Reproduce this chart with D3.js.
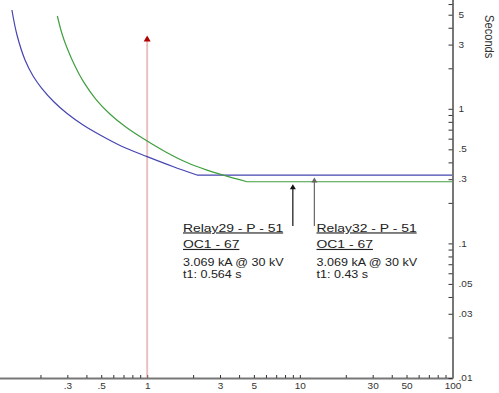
<!DOCTYPE html>
<html><head><meta charset="utf-8">
<script src="https://cdn.jsdelivr.net/npm/d3@7/dist/d3.min.js"></script>
<style>html,body{margin:0;padding:0;background:#fff;overflow:hidden}</style>
</head><body>
<svg id="c" width="499" height="393"></svg>
<script>
// ---- data (current in kA on x, time in seconds on y) ----
const blueCurrent = [0.130, 0.1404, 0.1585, 0.1789, 0.2040, 0.2456, 0.2974, 0.3805, 0.4917, 0.6857, 1.0, 1.487, 2.118, 100];
const blueTime    = [5.42, 3.534, 2.305, 1.753, 1.420, 1.123, 0.926, 0.758, 0.639, 0.525, 0.441, 0.371, 0.322, 0.322];
const greenCurrent = [0.2581, 0.2758, 0.2974, 0.3372, 0.3823, 0.4629, 0.5721, 0.7284, 1.0, 1.332, 1.821, 2.437, 3.198, 4.506, 100];
const greenTime    = [4.892, 3.658, 2.866, 2.069, 1.590, 1.172, 0.912, 0.729, 0.576, 0.476, 0.399, 0.352, 0.320, 0.287, 0.287];
const faultCurrent = 1;      // red marker
const faultTop = 3.5;
const arrowCurrent = [9.0, 12.45];
const arrowTargetTime = [0.287, 0.322];
const relayNames = ["Relay29 - P - 51", "Relay32 - P - 51"];
const relaySub = ["OC1 - 67", "OC1 - 67"];
const relayInfo = ["3.069 kA @ 30 kV", "3.069 kA @ 30 kV"];
const relayT1 = ["t1: 0.564 s", "t1: 0.43 s"];
const xTickVals = [0.2,0.3,0.4,0.5,0.6,0.7,0.8,0.9,1,2,3,4,5,6,7,8,9,10,20,30,40,50,60,70,80,90,100];
const xLabelVals = [0.3,0.5,1,3,5,10,30,50,100];
const xLabelText = [".3",".5","1","3","5","10","30","50","100"];
const yTickVals = [0.01,0.02,0.03,0.04,0.05,0.06,0.07,0.08,0.09,0.1,0.2,0.3,0.4,0.5,0.6,0.7,0.8,0.9,1,2,3,4,5,6];
const yLabelVals = [0.01,0.03,0.05,0.1,0.3,0.5,1,3,5];
const yLabelText = [".01",".03",".05",".1",".3",".5","1","3","5"];
const yTitle = "Seconds";

// ---- layout ----
const SX = 1.22;
const FONT = "'Liberation Sans', Arial, sans-serif";
const svg = d3.select("#c");
const axisX = 452.5, axisY = 378;
const x = d3.scaleLog().domain([0.1, 100]).range([-5.5, axisX]);
const y = d3.scaleLog().domain([0.01, 10]).range([axisY, axisY - 3 * 134.6]);

// x axis
const xa = svg.append("g").attr("transform", `translate(0,${axisY})`)
  .call(d3.axisBottom(x).tickValues(xTickVals).tickSizeInner(-3).tickSizeOuter(0).tickPadding(5)
    .tickFormat(d => { const i = xLabelVals.indexOf(d); return i >= 0 ? xLabelText[i] : ""; }));
xa.select(".domain").attr("stroke", "#777").attr("stroke-width", 2);
xa.selectAll(".tick line").attr("stroke", "#333");
xa.selectAll(".tick text").attr("font-family", FONT).attr("font-size", 8.2).attr("fill", "#333")
  .attr("transform", `scale(${SX},1)`);
xa.selectAll(".tick text").attr("x", 0);

// red fault marker
svg.append("line").attr("x1", x(faultCurrent)).attr("x2", x(faultCurrent))
  .attr("y1", y(faultTop) + 5).attr("y2", axisY)
  .attr("stroke", "#d98080").attr("stroke-width", 2).attr("stroke-dasharray", "1,1");
svg.append("path")
  .attr("d", `M${x(faultCurrent)},${y(faultTop)} l3.5,6 l-7,0 Z`)
  .attr("fill", "#b00000");

// curves: smooth inverse-time part, then straight definite-time part
const curveLine = d3.line().x(d => x(d[0])).y(d => y(d[1])).curve(d3.curveCatmullRom.alpha(0.5));
const flatLine = d3.line().x(d => x(d[0])).y(d => y(d[1]));
function drawSeries(cur, tim, color) {
  const pts = cur.map((c, i) => [c, tim[i]]);
  svg.append("path").datum(pts.slice(0, -1)).attr("d", curveLine)
    .attr("fill", "none").attr("stroke", color).attr("stroke-width", 1.2);
  svg.append("path").datum(pts.slice(-2)).attr("d", flatLine)
    .attr("fill", "none").attr("stroke", color).attr("stroke-width", 1.2);
}
drawSeries(blueCurrent, blueTime, "#4545b0");
drawSeries(greenCurrent, greenTime, "#3f9f3f");

// y axis (right)
const ya = svg.append("g").attr("transform", `translate(${axisX},0)`)
  .call(d3.axisRight(y).tickValues(yTickVals).tickSizeInner(-4).tickSizeOuter(0).tickPadding(6)
    .tickFormat(d => { const i = yLabelVals.findIndex(v => Math.abs(v - d) < 1e-9); return i >= 0 ? yLabelText[i] : ""; }));
ya.select(".domain").attr("stroke", "#777").attr("stroke-width", 2);
ya.selectAll(".tick line").attr("stroke", "#333").attr("x2", -4);
ya.selectAll(".tick text").attr("font-family", FONT).attr("font-size", 8.2).attr("fill", "#333")
  .attr("transform", `scale(${SX},1)`).attr("x", 5);

svg.append("text").text(yTitle)
  .attr("transform", `translate(485,36.7) scale(${SX},1) rotate(90)`)
  .attr("text-anchor", "middle").attr("font-family", FONT).attr("font-size", 11.1).attr("fill", "#333");

// arrows
const arrowColors = ["#111", "#666"];
const arrowBottom = 226;
arrowCurrent.forEach((c, i) => {
  const ax = x(c), ty = y(arrowTargetTime[i]) + 2.5;
  svg.append("line").attr("x1", ax).attr("x2", ax).attr("y1", ty + 4).attr("y2", arrowBottom)
    .attr("stroke", arrowColors[i]).attr("stroke-width", 1.2);
  svg.append("path").attr("d", `M${ax},${ty} l3,5 l-6,0 Z`).attr("fill", arrowColors[i]);
});

// labels
const labelX = [183, 316.5];
labelX.forEach((lx, i) => {
  const rows = [
    {t: relayNames[i], y: 231.5, s: 11.4, u: true},
    {t: relaySub[i], y: 248, s: 11.4, u: true},
    {t: relayInfo[i], y: 265.8, s: 10.3, u: false},
    {t: relayT1[i], y: 277.8, s: 10.3, u: false}
  ];
  rows.forEach(r => {
    svg.append("text").text(r.t)
      .attr("transform", `translate(${lx},${r.y}) scale(${SX},1)`)
      .attr("font-family", FONT).attr("font-size", r.s).attr("fill", "#222")
      .attr("text-decoration", r.u ? "underline" : null);
  });
});
</script>
</body></html>
